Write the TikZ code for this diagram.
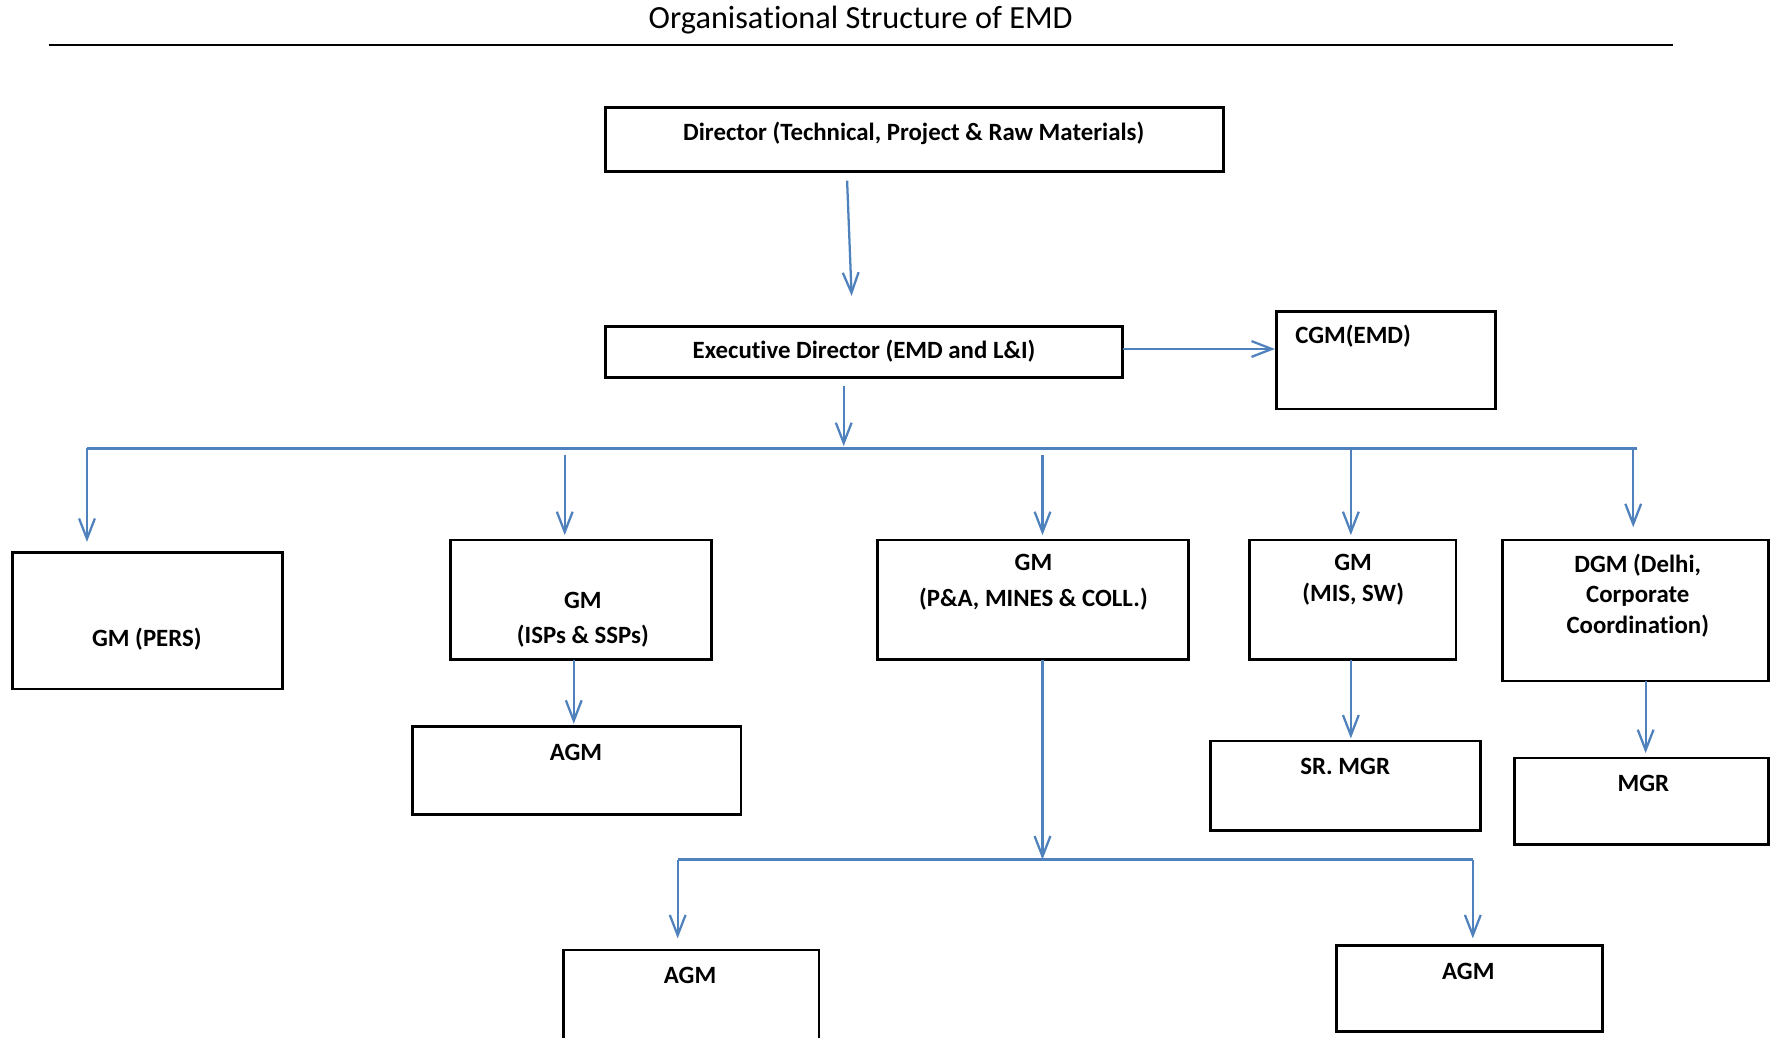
\documentclass[tikz,border=0pt]{standalone}
\usepackage{fontspec}
\setmainfont{Carlito}[Ligatures={TeX,NoCommon}]
\usetikzlibrary{arrows.meta,fit}
\definecolor{lineblue}{RGB}{79,129,189}
\begin{document}
\begin{tikzpicture}[x=0.5pt,y=-0.5pt,
  box/.style={draw=black, line width=1.2pt, inner sep=0pt, rectangle},
  txt/.style={font=\fontsize{11}{15.5}\selectfont\bfseries, align=center, inner sep=0pt},
  txtb/.style={font=\fontsize{11}{13.5}\selectfont\bfseries, align=center, inner sep=0pt},
  link/.style={draw=lineblue, line width=1pt},
  arr/.style={link, -{Straight Barb[length=9pt,width=7pt,line width=1pt]}}]
\useasboundingbox (0,0) rectangle (1568,919);

% heading and rule
\node[font=\fontsize{14.3}{17}\selectfont, inner sep=0pt] (title) at (762,18) {Organisational Structure of EMD};
\draw[line width=1pt] (43,40) -- (1481,40);

% boxes
\node[box, fit={(536,95)(1083,152)}] (dir) {};
\node[txt] (dirT) at (809,118) {Director (Technical, Project \& Raw Materials)};

\node[box, fit={(536,289)(994,334)}] (ed) {};
\node[txt] (edT) at (765,311) {Executive Director (EMD and L\&I)};

\node[box, fit={(1130,276)(1324,362)}] (cgm) {};
\node[txt] (cgmT) at (1198,298) {CGM(EMD)};

\node[box, fit={(11,489)(250,610)}] (pers) {};
\node[txt] (persT) at (130,566) {GM (PERS)};

\node[box, fit={(399,478)(630,584)}] (isp) {};
\node[txt] (ispT) at (516,548.5) {GM\\(ISPs \& SSPs)};

\node[box, fit={(777,478)(1052,584)}] (pa) {};
\node[txt] (paT) at (915,515.5) {GM\\(P\&A, MINES \& COLL.)};

\node[box, fit={(1106,478)(1289,584)}] (mis) {};
\node[txtb] (misT) at (1198,513.5) {GM\\(MIS, SW)};

\node[box, fit={(1330,478)(1566,603)}] (dgm) {};
\node[txtb] (dgmT) at (1450,527) {DGM (Delhi,\\Corporate\\Coordination)};

\node[box, fit={(365,643)(656,721)}] (agmA) {};
\node[txt] (agmAT) at (510,666) {AGM};

\node[box, fit={(1072,656)(1311,735)}] (srmgr) {};
\node[txt] (srmgrT) at (1191,679) {SR. MGR};

\node[box, fit={(1341,671)(1566,748)}] (mgr) {};
\node[txt] (mgrT) at (1455,694) {MGR};

\node[box, fit={(499,841)(725,930)}] (agmB) {};
\node[txt] (agmBT) at (611,864) {AGM};

\node[box, fit={(1183,837)(1419,913)}] (agmC) {};
\node[txt] (agmCT) at (1300,860) {AGM};

% connectors
\coordinate (dTop) at (750,160);
\coordinate (dBot) at (754,262);
\draw[arr] (dTop) -- (dBot);

\coordinate (edR) at (994,309);
\draw[arr] (edR) -- (edR -| cgm.west);

\coordinate (edDrop) at (747,342);
\coordinate (busC) at (747,395);
\draw[arr] (edDrop) -- (busC);

\coordinate (busL) at (77,397);
\coordinate (busR) at (1449,397);
\draw[link] (busL) -- (busR);

\coordinate (t2) at (500,403);
\coordinate (t3) at (923,403);
\coordinate (t4) at (1196,397);
\coordinate (t5) at (1446,397);
\draw[arr, shorten >=4pt] (busL) -- (busL |- pers.north);
\draw[arr, shorten >=1.5pt] (t2) -- (t2 |- isp.north);
\draw[arr, shorten >=1.5pt] (t3) -- (t3 |- pa.north);
\draw[arr, shorten >=1.5pt] (t4) -- (t4 |- mis.north);
\draw[arr, shorten >=5pt] (t5) -- (t5 |- dgm.north);

\coordinate (s1) at (508,584);
\draw[arr, shorten >=0.5pt] (s1) -- (s1 |- agmA.north);
\coordinate (s2) at (1196,584);
\draw[arr, shorten >=0.5pt] (s2) -- (s2 |- srmgr.north);
\coordinate (s3) at (1457,603);
\draw[arr, shorten >=1.5pt] (s3) -- (s3 |- mgr.north);

\coordinate (s4) at (923,584);
\coordinate (bus2C) at (923,761);
\draw[arr] (s4) -- (bus2C);
\coordinate (bus2L) at (600,761);
\coordinate (bus2R) at (1304,761);
\draw[link] (bus2L) -- (bus2R);
\draw[arr, shorten >=4.5pt] (bus2L) -- (bus2L |- agmB.north);
\draw[arr, shorten >=2.5pt] (bus2R) -- (bus2R |- agmC.north);
\end{tikzpicture}
\end{document}
